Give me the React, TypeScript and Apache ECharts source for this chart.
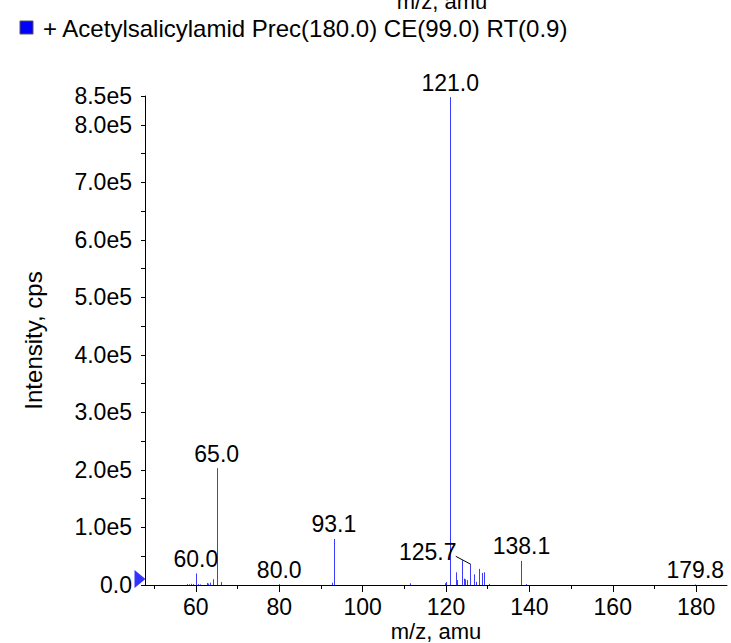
import React, { useEffect, useRef } from "react";
import * as echarts from "echarts";

// m/z values of the stick spectrum and their intensities (cps)
const peakMz = [
  57.9, 58.4, 58.9, 59.4, 60.0, 60.5, 61.0, 62.6, 63.0, 63.5, 64.0, 65.0, 66.1,
  80.0, 92.6, 93.1, 111.4, 119.7, 120.0, 121.0, 122.3, 122.7, 123.8, 124.2,
  124.6, 125.0, 125.7, 126.8, 127.3, 128.0, 128.6, 129.1, 130.2, 138.1, 139.1,
  179.8,
];
const peakIntensity = [
  1500, 1200, 2000, 1500, 20000, 1500, 1000, 3500, 2500, 4000, 10000, 203000,
  5000, 1500, 4000, 80000, 3000, 3000, 5000, 848000, 22000, 8500, 43000, 11000,
  10000, 8500, 36000, 18500, 5500, 28000, 21000, 22000, 2000, 42000, 1500, 1000,
];

// labelled peaks
const labelMz = [60.0, 65.0, 80.0, 93.1, 121.0, 125.7, 138.1, 179.8];
const labelText = ["60.0", "65.0", "80.0", "93.1", "121.0", "125.7", "138.1", "179.8"];

// axis ticks
const xMajorTicks = [60, 80, 100, 120, 140, 160, 180];
const xMinorTicks = [50, 70, 90, 110, 130, 150, 170];
const xMin = 47.8;
const xMax = 187.4;
const yMax = 850000;
const yStep = 50000;

const legendText = "+ Acetylsalicylamid Prec(180.0) CE(99.0) RT(0.9)";
const xTitle = "m/z, amu";
const yTitle = "Intensity, cps";

const FONT = "'Liberation Sans', Arial, Helvetica, sans-serif";
const PEAK_COLOR = "#3c3cff";

export default function App() {
  const ref = useRef<HTMLDivElement>(null);

  useEffect(() => {
    if (!ref.current) return;
    const chart = echarts.init(ref.current, undefined, { renderer: "svg" });

    const peakData = peakMz.map((m, i) => [m, peakIntensity[i]]);
    const labelData = labelMz.map((m, i) => {
      const idx = peakMz.findIndex((p) => Math.abs(p - m) < 1e-6);
      return [m, idx >= 0 ? peakIntensity[idx] : 0, i];
    });

    const option: any = {
      animation: false,
      backgroundColor: "#ffffff",
      textStyle: { fontFamily: FONT },
      grid: {
        left: 145,
        right: 4,
        top: 96,
        bottom: 58,
        containLabel: false,
        outerBoundsMode: "none",
      },
      xAxis: [
        {
          type: "value",
          min: xMin,
          max: xMax,
          name: xTitle,
          nameLocation: "middle",
          nameGap: 35,
          nameMoveOverlap: false,
          nameTextStyle: { color: "#000", fontSize: 22, fontFamily: FONT },
          axisLine: { show: true, onZero: false, lineStyle: { color: "#000", width: 1 } },
          axisTick: {
            show: true,
            length: 7,
            customValues: xMajorTicks,
            lineStyle: { color: "#000" },
          },
          axisLabel: {
            show: true,
            customValues: xMajorTicks,
            color: "#000",
            fontSize: 23,
            fontFamily: FONT,
            margin: 10,
          },
          splitLine: { show: false },
        },
        {
          type: "value",
          min: xMin,
          max: xMax,
          position: "bottom",
          axisLine: { show: false },
          axisTick: {
            show: true,
            length: 4,
            customValues: xMinorTicks,
            lineStyle: { color: "#000" },
          },
          axisLabel: { show: false },
          splitLine: { show: false },
        },
      ],
      yAxis: {
        type: "value",
        min: 0,
        max: yMax,
        interval: yStep,
        name: yTitle,
        nameLocation: "middle",
        nameGap: 100,
        nameMoveOverlap: false,
        nameTextStyle: { color: "#000", fontSize: 24, fontFamily: FONT },
        axisLine: { show: true, lineStyle: { color: "#000", width: 1 } },
        axisTick: { show: true, length: 4, lineStyle: { color: "#000" } },
        axisLabel: {
          color: "#000",
          fontSize: 23,
          fontFamily: FONT,
          margin: 13,
          formatter: (v: number) => {
            if (v === 0) return "0.0";
            if (v === yMax) return (v / 1e5).toFixed(1) + "e5";
            if (v % 100000 === 0) return (v / 1e5).toFixed(1) + "e5";
            return "";
          },
        },
        splitLine: { show: false },
      },
      graphic: [
        {
          type: "rect",
          shape: { x: 20, y: 21, width: 13, height: 13 },
          style: { fill: "#0000ff", stroke: "#555", lineWidth: 1 },
        },
        {
          type: "text",
          x: 43,
          y: 28,
          style: {
            text: legendText,
            fill: "#000",
            font: `24px ${FONT}`,
            verticalAlign: "middle",
            align: "left",
          },
        },
        {
          type: "text",
          x: 442,
          y: 12,
          style: {
            text: xTitle,
            fill: "#000",
            font: `22px ${FONT}`,
            verticalAlign: "bottom",
            align: "center",
          },
        },
      ],
      series: [
        {
          type: "custom",
          clip: false,
          data: peakData,
          renderItem: (_p: any, api: any) => {
            const x = api.value(0);
            const y = api.value(1);
            const p0 = api.coord([x, 0]);
            const p1 = api.coord([x, y]);
            const px = Math.round(p0[0]) + 0.5;
            return {
              type: "line",
              shape: { x1: px, y1: p0[1], x2: px, y2: p1[1] },
              style: { stroke: PEAK_COLOR, lineWidth: 1 },
            };
          },
        },
        {
          type: "custom",
          clip: false,
          data: labelData,
          renderItem: (_p: any, api: any) => {
            const x = api.value(0);
            const y = api.value(1);
            const i = api.value(2);
            const pt = api.coord([x, y]);
            const shifted = labelText[i] === "125.7";
            const children: any[] = [];
            if (shifted) {
              children.push({
                type: "line",
                shape: { x1: pt[0] - 14, y1: pt[1] - 8, x2: pt[0] + 1, y2: pt[1] },
                style: { stroke: "#000", lineWidth: 1 },
              });
            }
            children.push({
              type: "text",
              x: shifted ? pt[0] - 42 : pt[0],
              y: shifted ? pt[1] - 1 : pt[1] - 3,
              style: {
                text: labelText[i],
                fill: "#000",
                font: `23px ${FONT}`,
                align: "center",
                verticalAlign: "bottom",
              },
            });
            return { type: "group", children };
          },
        },
        {
          type: "scatter",
          clip: false,
          data: [[xMin, 0]],
          symbol: "triangle",
          symbolSize: [18, 11],
          symbolRotate: -90,
          symbolOffset: [-5, -6],
          itemStyle: { color: "#0000ff" },
          silent: true,
        },
      ],
    };

    chart.setOption(option);
    return () => chart.dispose();
  }, []);

  return (
    <div
      ref={ref}
      style={{ position: "fixed", left: 0, top: 0, width: 731, height: 643 }}
    />
  );
}
